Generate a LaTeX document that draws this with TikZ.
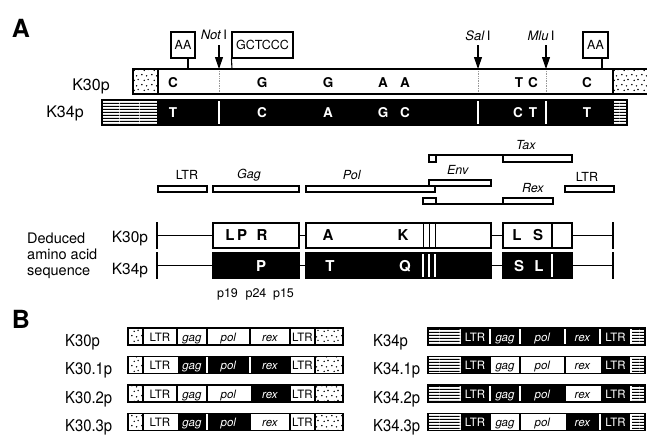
\documentclass[tikz,border=0pt]{standalone}
\usepackage{fontspec}
\setmainfont{TeX Gyre Heros}
\usetikzlibrary{arrows.meta,patterns}
\newcommand{\fs}[1]{\fontsize{#1}{#1}\selectfont}
\pgfdeclarepatternformonly{sdots}{\pgfqpoint{0pt}{0pt}}{\pgfqpoint{10pt}{10pt}}{\pgfqpoint{10pt}{10pt}}{%
  \pgfpathcircle{\pgfqpoint{2pt}{2.5pt}}{0.85pt}%
  \pgfpathcircle{\pgfqpoint{7pt}{1.2pt}}{0.85pt}%
  \pgfpathcircle{\pgfqpoint{4.5pt}{7pt}}{0.85pt}%
  \pgfpathcircle{\pgfqpoint{8.6pt}{8pt}}{0.85pt}%
  \pgfusepath{fill}}
\pgfdeclarepatternformonly{hstripes}{\pgfqpoint{0pt}{0pt}}{\pgfqpoint{20pt}{3pt}}{\pgfqpoint{20pt}{3pt}}{%
  \pgfpathrectangle{\pgfqpoint{0pt}{0pt}}{\pgfqpoint{20pt}{1.5pt}}%
  \pgfusepath{fill}}
% B-section segment: name, x1, x2, ytop, b/w, text
\newcommand{\bseg}[6]{%
  \if#5b
    \fill[black] (#2,#4) rectangle (#3,#4+17);
    \draw[white, line width=1.3] (#2,#4) -- (#2,#4+17) (#3,#4) -- (#3,#4+17);
    \node[seglbl, text=white] (#1) at ({(#2+#3)/2},#4+13) {#6};
  \else
    \draw[line width=1.1, fill=white] (#2,#4) rectangle (#3,#4+17);
    \node[seglbl] (#1) at ({(#2+#3)/2},#4+13) {#6};
  \fi}
% left row: prefix, ytop, gag, pol, rex, label
\newcommand{\lrow}[6]{%
  \node[blbl] (#1lab) at (65,#2+18) {#6};
  \bseg{#1ltra}{143}{177}{#2}{w}{LTR}
  \bseg{#1gag}{177}{207}{#2}{#3}{\textit{gag}}
  \bseg{#1pol}{207}{250}{#2}{#4}{\textit{pol}}
  \bseg{#1rex}{250}{290}{#2}{#5}{\textit{rex}}
  \bseg{#1ltrb}{290}{315}{#2}{w}{LTR}
  \fill[white] (128,#2) rectangle (143,#2+17);
  \fill[pattern=sdots] (128,#2) rectangle (143,#2+17);
  \fill[white] (315,#2) rectangle (343,#2+17);
  \fill[pattern=sdots] (315,#2) rectangle (343,#2+17);
  \draw[line width=1.1] (143,#2) -- (143,#2+17) (315,#2) -- (315,#2+17);
  \draw[line width=1.3] (128,#2) rectangle (343,#2+17);}
% right row
\newcommand{\rrow}[6]{%
  \node[blbl] (#1lab) at (373,#2+18) {#6};
  \bseg{#1ltra}{460}{490}{#2}{b}{LTR}
  \bseg{#1gag}{490}{520}{#2}{#3}{\textit{gag}}
  \bseg{#1pol}{520}{565}{#2}{#4}{\textit{pol}}
  \bseg{#1rex}{565}{600}{#2}{#5}{\textit{rex}}
  \bseg{#1ltrb}{600}{631}{#2}{b}{LTR}
  \fill[white] (428,#2) rectangle (460,#2+17);
  \fill[pattern=hstripes] (428,#2) rectangle (460,#2+17);
  \fill[white] (632,#2) rectangle (645,#2+17);
  \fill[pattern=hstripes] (632,#2) rectangle (645,#2+17);
  \draw[line width=1.3] (428,#2) rectangle (645,#2+17);}
\begin{document}
\begin{tikzpicture}[x=1pt,y=-1pt,
  seglbl/.style={font=\fs{11.5}, inner sep=0pt, anchor=base},
  blbl/.style={font=\fs{16.5}, inner sep=0pt, anchor=base west, xscale=0.9},
  rowlbl/.style={font=\fs{16}, inner sep=0pt, anchor=base},
  toplet/.style={font=\fs{13.5}\bfseries, inner sep=0pt},
  aalet/.style={font=\fs{15}\bfseries, inner sep=0pt},
  site/.style={font=\fs{13}, inner sep=0pt},
  glbl/.style={font=\fs{12.5}, inner sep=0pt},
  gbox/.style={line width=1.1},
  tagbox/.style={draw, line width=1.1, inner sep=0pt, font=\fs{12.5}, minimum height=26, fill=white},
  cut/.style={line width=1.1, -{Triangle[length=12pt,width=8pt]}},
  wbox/.style={draw, line width=1.1, fill=white, inner sep=0pt, minimum height=25},
  kbox/.style={draw, line width=1.1, fill=black, inner sep=0pt, minimum height=25},
  conn/.style={line width=1.1}]
\useasboundingbox (0,0) rectangle (647,437);
\clip (0,0) rectangle (647,437);
\fill[white] (0,0) rectangle (647,437);

% ---------------- Panel A ----------------
\node[font=\fs{25}\bfseries, inner sep=0pt] (pA) at (21,28) {A};

% K30p genome bar
\draw[line width=1.5, fill=white] (133,69) rectangle (648,94);
\fill[pattern=sdots] (133.5,69.5) rectangle (158,93.5);
\fill[pattern=sdots] (613,69.5) rectangle (648,93.5);
\draw[line width=1.1] (158,69) -- (158,94) (613,69) -- (613,94);
\draw[line width=1.5] (133,69) rectangle (648,94);
\draw[black!40, densely dotted, line width=0.7] (219,71) -- (219,92) (478,71) -- (478,92) (546,71) -- (546,92);

% K34p genome bar
\fill[black] (158,100) rectangle (613,125);
\fill[white] (102,100) rectangle (158,125);
\fill[pattern=hstripes] (102,100) rectangle (158,125);
\fill[white] (613,100) rectangle (627,125);
\fill[pattern=hstripes] (613,100) rectangle (627,125);
\draw[line width=1.4] (102,100) rectangle (627,125);
\draw[line width=1.1] (158,100) -- (158,125) (613,100) -- (613,125);
\draw[white, line width=1.6] (219,101) -- (219,124) (478,101) -- (478,124) (546,101) -- (546,124);

\node[rowlbl] (k30a) at (91,90) {K30p};
\node[rowlbl] (k34a) at (65,117) {K34p};

% letters
\foreach \x/\t [count=\i] in {173/C,262/G,328/G,383/A,405/A,519/T,533/C,587/C}
  \node[toplet] (u\i) at (\x,82.5) {\t};
\foreach \x/\t [count=\i] in {173/T,262/C,328/A,383/G,405/C,518/C,533/T,587/T}
  \node[toplet, text=white] (d\i) at (\x,113) {\t};

% restriction sites
\coordinate (cNot) at (219,69);
\coordinate (cSal) at (478,69);
\coordinate (cMlu) at (546,69);
\coordinate (sNot) at (219,45);
\coordinate (sSal) at (478,45);
\coordinate (sMlu) at (546,45);
\draw[cut] (sNot) -- (cNot);
\draw[cut] (sSal) -- (cSal);
\draw[cut] (sMlu) -- (cMlu);
\node[site] (tNot) at (214,34.5) {\textit{Not}\,I};
\node[site] (tSal) at (478,35.5) {\textit{Sal}\,I};
\node[site] (tMlu) at (541,35.5) {\textit{Mlu}\,I};

% insertion tags
\node[tagbox, minimum width=24] (aa1) at (183,45) {AA};
\coordinate (aa1b) at (188,69);
\draw[conn] (aa1.south -| aa1b) -- (aa1b);
\node[tagbox, minimum width=61] (gc) at (262.5,45) {GCTCCC};
\coordinate (gcb) at (232,69);
\draw[conn] (gc.south west) -- (gcb);
\node[tagbox, minimum width=25] (aa2) at (595.5,45) {AA};
\coordinate (aa2b) at (602,69);
\draw[conn] (aa2.south -| aa2b) -- (aa2b);

% gene map
\draw[gbox] (158,186) rectangle (207,192);
\draw[gbox] (213,186) rectangle (299,192);
\draw[gbox] (306,186) rectangle (435,192);
\draw[gbox] (429,180) rectangle (491,186);
\draw[gbox] (429,155) rectangle (436,162);
\draw[gbox] (436,155) -- (503,155);
\draw[gbox] (503,155) rectangle (572,162);
\draw[gbox] (423,198) rectangle (436,204);
\draw[gbox] (436,204) -- (503,204);
\draw[gbox] (503,198) rectangle (553,204);
\draw[gbox] (565,186) rectangle (614,192);
\node[glbl] (gL1) at (187,175) {LTR};
\node[glbl] (gGag) at (249,175) {\textit{Gag}};
\node[glbl] (gPol) at (352,175) {\textit{Pol}};
\node[glbl] (gEnv) at (458,169.5) {\textit{Env}};
\node[glbl] (gTax) at (526,145) {\textit{Tax}};
\node[glbl] (gRex) at (533,188) {\textit{Rex}};
\node[glbl] (gL2) at (587,177) {LTR};

% deduced amino acid sequence
\node[font=\fs{14.5}, inner sep=0pt, anchor=base west] (ded1) at (27,243) {Deduced};
\node[font=\fs{14.5}, inner sep=0pt, anchor=base west] (ded2) at (27,259.5) {amino acid};
\node[font=\fs{14.5}, inner sep=0pt, anchor=base west] (ded3) at (27,275.5) {sequence};
\node[font=\fs{15.5}, inner sep=0pt, anchor=base] (k30b) at (130,242) {K30p};
\node[font=\fs{15.5}, inner sep=0pt, anchor=base] (k34b) at (130,274) {K34p};

% K30p row
\coordinate (t1a) at (157,222); \coordinate (t1b) at (157,249); \coordinate (t1m) at (157,235.5);
\coordinate (t2a) at (613,222); \coordinate (t2b) at (613,249); \coordinate (t2m) at (613,235.5);
\draw[conn] (t1a) -- (t1b); \draw[conn] (t2a) -- (t2b);
\node[wbox, minimum width=86] (a1) at (256,235.5) {};
\node[wbox, minimum width=185] (a2) at (398.5,235.5) {};
\node[wbox, minimum width=49] (a3) at (527.5,235.5) {};
\node[wbox, minimum width=20] (a4) at (562,235.5) {};
\draw[conn] (t1m) -- (a1.west);
\draw[conn] (a1.east) -- (a2.west);
\draw[conn] (a2.east) -- (a3.west);
\draw[conn] (a4.east) -- (t2m);
\draw[line width=1] (423,223) -- (423,248) (429,223) -- (429,248) (435,223) -- (435,248);
\foreach \x/\t [count=\i] in {230/L,242/P,262/R,328/A,403/K,517/L,538/S}
  \node[aalet] (p\i) at (\x,235.5) {\t};

% K34p row
\coordinate (t3a) at (157,252); \coordinate (t3b) at (157,279); \coordinate (t3m) at (157,265.5);
\coordinate (t4a) at (613,252); \coordinate (t4b) at (613,279); \coordinate (t4m) at (613,265.5);
\draw[conn] (t3a) -- (t3b); \draw[conn] (t4a) -- (t4b);
\node[kbox, minimum width=86] (b1) at (256,265.5) {};
\node[kbox, minimum width=185] (b2) at (398.5,265.5) {};
\node[kbox, minimum width=49] (b3) at (527.5,265.5) {};
\node[kbox, minimum width=20] (b4) at (562,265.5) {};
\draw[conn] (t3m) -- (b1.west);
\draw[conn] (b1.east) -- (b2.west);
\draw[conn] (b2.east) -- (b3.west);
\draw[conn] (b4.east) -- (t4m);
\draw[white, line width=1.3] (423,254) -- (423,277) (429,254) -- (429,277) (435,254) -- (435,277) (552,254) -- (552,277);
\foreach \x/\t [count=\i] in {261/P,330/T,405/Q,519/S,539/L}
  \node[aalet, text=white] (q\i) at (\x,266) {\t};

\node[font=\fs{12.5}, inner sep=0pt, anchor=base] (p19) at (227.5,297) {p19};
\node[font=\fs{12.5}, inner sep=0pt, anchor=base] (p24) at (256,297) {p24};
\node[font=\fs{12.5}, inner sep=0pt, anchor=base] (p15) at (283.5,297) {p15};

% ---------------- Panel B ----------------
\node[font=\fs{25}\bfseries, inner sep=0pt] (pB) at (21,319) {B};
\lrow{La}{328}{w}{w}{w}{K30p}
\lrow{Lb}{356.5}{b}{b}{b}{K30.1p}
\lrow{Lc}{385}{w}{w}{b}{K30.2p}
\lrow{Ld}{413.5}{b}{b}{w}{K30.3p}
\rrow{Ra}{328}{b}{b}{b}{K34p}
\rrow{Rb}{356.5}{w}{w}{w}{K34.1p}
\rrow{Rc}{385}{b}{b}{w}{K34.2p}
\rrow{Rd}{413.5}{w}{w}{b}{K34.3p}
\end{tikzpicture}
\end{document}
